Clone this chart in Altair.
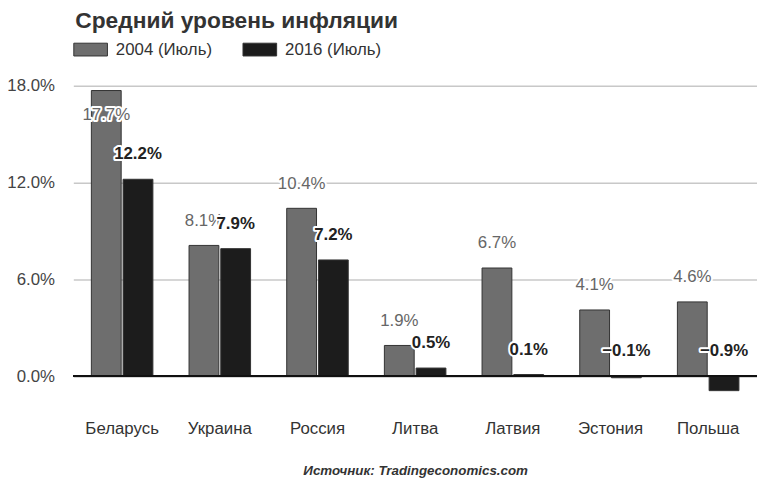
import altair as alt
import pandas as pd

countries = ["Беларусь", "Украина", "Россия", "Литва", "Латвия", "Эстония", "Польша"]
series = ["2004 (Июль)", "2016 (Июль)"]
v2004 = [17.7, 8.1, 10.4, 1.9, 6.7, 4.1, 4.6]
v2016 = [12.2, 7.9, 7.2, 0.5, 0.1, -0.1, -0.9]
y_ticks = [0, 6, 12, 18]
title_text = "Средний уровень инфляции"
source_text = "Источник: Tradingeconomics.com"

rows = []
for c, a, b in zip(countries, v2004, v2016):
    rows.append({"country": c, "series": series[0], "value": a})
    rows.append({"country": c, "series": series[1], "value": b})
df = pd.DataFrame(rows)

FONT = "Liberation Sans"

x_enc = alt.X(
    "country:N",
    sort=countries,
    scale=alt.Scale(paddingInner=0.37, paddingOuter=0.185),
    axis=alt.Axis(
        title=source_text,
        labelFontSize=17,
        labelColor="#333",
        labelFont=FONT,
        labelBaseline="alphabetic",
        labelPadding=34,
        labelAngle=0,
        domain=False,
        ticks=False,
        grid=False,
        titleFont=FONT,
        titleFontSize=13.5,
        titleFontStyle="italic",
        titleFontWeight="bold",
        titleColor="#333",
        titleBaseline="alphabetic",
        titleY=75,
    ),
)
xo_enc = alt.XOffset("series:N", sort=series, scale=alt.Scale(paddingInner=0.06))

y_scale = alt.Scale(domain=[-1.5, 18], nice=False, zero=False)

base = alt.Chart(df)

bars = base.mark_bar(stroke="#333", strokeWidth=1).encode(
    x=x_enc,
    xOffset=xo_enc,
    y=alt.Y(
        "value:Q",
        scale=y_scale,
        axis=alt.Axis(
            title=None,
            values=y_ticks,
            labelExpr="format(datum.value, '.1f') + '%'",
            labelFontSize=17,
            labelColor="#444",
            labelFont=FONT,
            labelPadding=19,
            ticks=False,
            domain=False,
            gridColor="#c8c8c8",
            gridWidth=1.5,
        ),
    ),
    color=alt.Color(
        "series:N",
        sort=series,
        scale=alt.Scale(domain=series, range=["#6e6e6e", "#1c1c1c"]),
        legend=alt.Legend(
            title=None,
            orient="none",
            direction="horizontal",
            legendX=0,
            legendY=-54,
            symbolType="M-1,-0.38H1V0.38H-1Z",
            symbolSize=1156,
            symbolStrokeColor="#333",
            symbolStrokeWidth=1,
            symbolOpacity=1,
            labelFontSize=17,
            labelFont=FONT,
            labelColor="#333",
            labelOffset=8,
            columnPadding=28,
            padding=0,
        ),
    ),
)

zero = alt.Chart(df).mark_rule(color="#111", strokeWidth=2).encode(
    y=alt.datum(0, scale=y_scale)
)


def label_layers(s, color, weight):
    sub = base.transform_filter(alt.datum.series == s).transform_calculate(
        label="format(datum.value, '.1f') + '%'",
        ypos="max(datum.value, 0)",
    )
    out = []
    for cond, dy in (("datum.value < 16", -25), ("datum.value >= 16", 25)):
        part = sub.transform_filter(cond)
        enc = dict(
            x=alt.X("country:N", sort=countries),
            xOffset=alt.XOffset("series:N", sort=series),
            y=alt.Y("ypos:Q", scale=y_scale),
            text="label:N",
        )
        halo = part.mark_text(
            font=FONT, fontSize=17, fontWeight=weight, dy=dy, baseline="middle",
            stroke="white", strokeWidth=4, strokeJoin="round", fill="white",
        ).encode(**enc)
        txt = part.mark_text(
            font=FONT, fontSize=17, fontWeight=weight, dy=dy, baseline="middle",
            color=color,
        ).encode(**enc)
        out += [halo, txt]
    return out


layers = [bars, zero]
layers += label_layers(series[0], "#666", "normal")
layers += label_layers(series[1], "#222", "bold")

chart = (
    alt.layer(*layers)
    .properties(
        width=691,
        height=318,
        background="white",
        autosize=alt.AutoSizeParams(type="none"),
        padding={"left": 66, "top": 76, "right": 0, "bottom": 77},
        title=alt.TitleParams(
            text=title_text,
            anchor="start",
            frame="group",
            font=FONT,
            fontSize=23,
            fontWeight="bold",
            color="#333",
            offset=-1,
            dx=2,
        ),
    )
    .configure_view(strokeWidth=0, stroke="transparent")
)

chart.save("out.html", embed_options={"renderer": "svg", "actions": False})
